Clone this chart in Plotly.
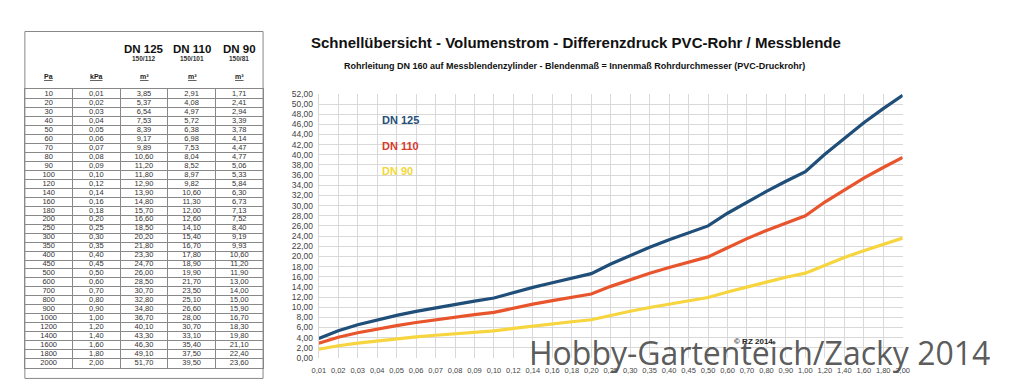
import plotly.graph_objects as go

W, H = 1023, 392
OX, OY = 8, 8  # page body offset


def px(x):
    return (x - OX) / W


def py(y):
    return 1 - (y - OY) / H


# ---- data ----
pa = [10, 20, 30, 40, 50, 60, 70, 80, 90, 100, 120, 140, 160, 180, 200, 250, 300, 350,
      400, 450, 500, 600, 700, 800, 900, 1000, 1200, 1400, 1600, 1800, 2000]
kpa = [0.01, 0.02, 0.03, 0.04, 0.05, 0.06, 0.07, 0.08, 0.09, 0.10, 0.12, 0.14, 0.16, 0.18,
       0.20, 0.25, 0.30, 0.35, 0.40, 0.45, 0.50, 0.60, 0.70, 0.80, 0.90, 1.00, 1.20, 1.40,
       1.60, 1.80, 2.00]
dn125 = [3.85, 5.37, 6.54, 7.53, 8.39, 9.17, 9.89, 10.60, 11.20, 11.80, 12.90, 13.90, 14.80,
         15.70, 16.60, 18.50, 20.20, 21.80, 23.30, 24.70, 26.00, 28.50, 30.70, 32.80, 34.80,
         36.70, 40.10, 43.30, 46.30, 49.10, 51.70]
dn110 = [2.91, 4.08, 4.97, 5.72, 6.38, 6.98, 7.53, 8.04, 8.52, 8.97, 9.82, 10.60, 11.30,
         12.00, 12.60, 14.10, 15.40, 16.70, 17.80, 18.90, 19.90, 21.70, 23.50, 25.10, 26.60,
         28.00, 30.70, 33.10, 35.40, 37.50, 39.50]
dn90 = [1.71, 2.41, 2.94, 3.39, 3.78, 4.14, 4.47, 4.77, 5.06, 5.33, 5.84, 6.30, 6.73, 7.13,
        7.52, 8.40, 9.19, 9.93, 10.60, 11.20, 11.90, 13.00, 14.00, 15.00, 15.90, 16.70,
        18.30, 19.80, 21.10, 22.40, 23.60]
series_names = ["DN 125", "DN 110", "DN 90"]
series_sub = ["150/112", "150/101", "150/81"]
col_units = ["Pa", "kPa", "m³", "m³", "m³"]
colors = ["#1F4E79", "#E8552D", "#F7D53E"]
label_colors = ["#1F4E79", "#D93A2B", "#F2D83A"]


def de(v, d=2):
    return f"{v:.{d}f}".replace(".", ",")


cats = [de(k) for k in kpa]

fig = go.Figure()

# ---- chart ----
for name, vals, c in zip(series_names, [dn125, dn110, dn90], colors):
    fig.add_trace(go.Scatter(x=cats, y=vals, mode="lines", name=name,
                             line=dict(color=c, width=3.2), xaxis="x", yaxis="y",
                             showlegend=False))

# ---- table (second axis pair, grid lines = cell borders) ----
table_cols = [[str(p) for p in pa], [de(k) for k in kpa],
              [de(v) for v in dn125], [de(v) for v in dn110], [de(v) for v in dn90]]
n_rows = len(pa)
for ci, col in enumerate(table_cols):
    fig.add_trace(go.Scatter(x=[ci + 0.5] * n_rows, y=[ri + 0.5 for ri in range(n_rows)],
                             text=col, mode="text", xaxis="x2", yaxis="y2",
                             textfont=dict(family="Liberation Sans", size=7.5, color="#333"),
                             showlegend=False, hoverinfo="skip"))


def note(x, y, text, size, color="#111", family="Liberation Sans", xanchor="center"):
    return dict(x=px(x), y=py(y), xref="paper", yref="paper", text=text, showarrow=False,
                xanchor=xanchor, yanchor="middle",
                font=dict(family=family, size=size, color=color))


ann = []
col_centers_px = [42, 90.5, 139, 187.5, 235.5]
for i, u in enumerate(col_units):
    ann.append(note(col_centers_px[i], 73, f"<u><b>{u}</b></u>", 7, "#222"))
for i, (n, s) in enumerate(zip(series_names, series_sub)):
    ann.append(note(col_centers_px[i + 2], 44.5, f"<b>{n}</b>", 11.5, "#111"))
    ann.append(note(col_centers_px[i + 2], 54.5, f"<b>{s}</b>", 6.5, "#333"))

ann.append(note(577, 38, "<b>Schnellübersicht - Volumenstrom - Differenzdruck PVC-Rohr / Messblende</b>",
                15, "#111"))
ann.append(note(575, 62, "<b>Rohrleitung DN 160 auf Messblendenzylinder - Blendenmaß = Innenmaß Rohrdurchmesser (PVC-Druckrohr)</b>",
                9, "#111"))
for i, (n, c) in enumerate(zip(series_names, label_colors)):
    ann.append(note(378, 118 + 26 * i, f"<b>{n}</b>", 11, c, xanchor="left"))
ann.append(note(757, 345, "<b>© RZ 2014</b>", 8, "#222"))
ann.append(note(763, 356, "Hobby-Gartenteich/Zacky 2014", 32, "rgba(70,70,70,0.9)",
                family="Open Sans"))

shapes = [dict(type="rect", xref="paper", yref="paper", x0=px(18), x1=px(259.5),
               y0=py(383), y1=py(27), line=dict(color="#888", width=1))]

fig.update_layout(
    width=W, height=H, margin=dict(l=0, r=0, t=0, b=0),
    paper_bgcolor="white", plot_bgcolor="white", separators=",.",
    annotations=ann, shapes=shapes,
    xaxis=dict(domain=[px(316), px(908)], type="category", range=[0, len(cats) - 1],
               showgrid=True, gridcolor="#D9D9D9", gridwidth=1, showline=False,
               tickfont=dict(family="Liberation Sans", size=7.5, color="#444"),
               tickangle=0, ticks="", ticklabelstandoff=7, zeroline=False, anchor="y"),
    yaxis=dict(domain=[py(362), py(91)], range=[0, 52], dtick=2,
               tickformat=".2f", showgrid=True, gridcolor="#D9D9D9", gridwidth=1,
               tickfont=dict(family="Liberation Sans", size=8.5, color="#444"),
               ticks="", ticklabelstandoff=3, zeroline=False, showline=True,
               linecolor="#D9D9D9", anchor="x"),
    xaxis2=dict(domain=[px(18), px(259.5)], range=[0, 5], dtick=1, showgrid=True,
                gridcolor="#888", showticklabels=False, zeroline=False,
                showline=True, linecolor="#888", mirror=True, anchor="y2"),
    yaxis2=dict(domain=[py(372), py(86.5)], range=[n_rows, 0], dtick=1,
                showgrid=True, gridcolor="#888", showticklabels=False, zeroline=False,
                showline=True, linecolor="#888", mirror=True, anchor="x2"),
)

fig.write_html("out.html")
